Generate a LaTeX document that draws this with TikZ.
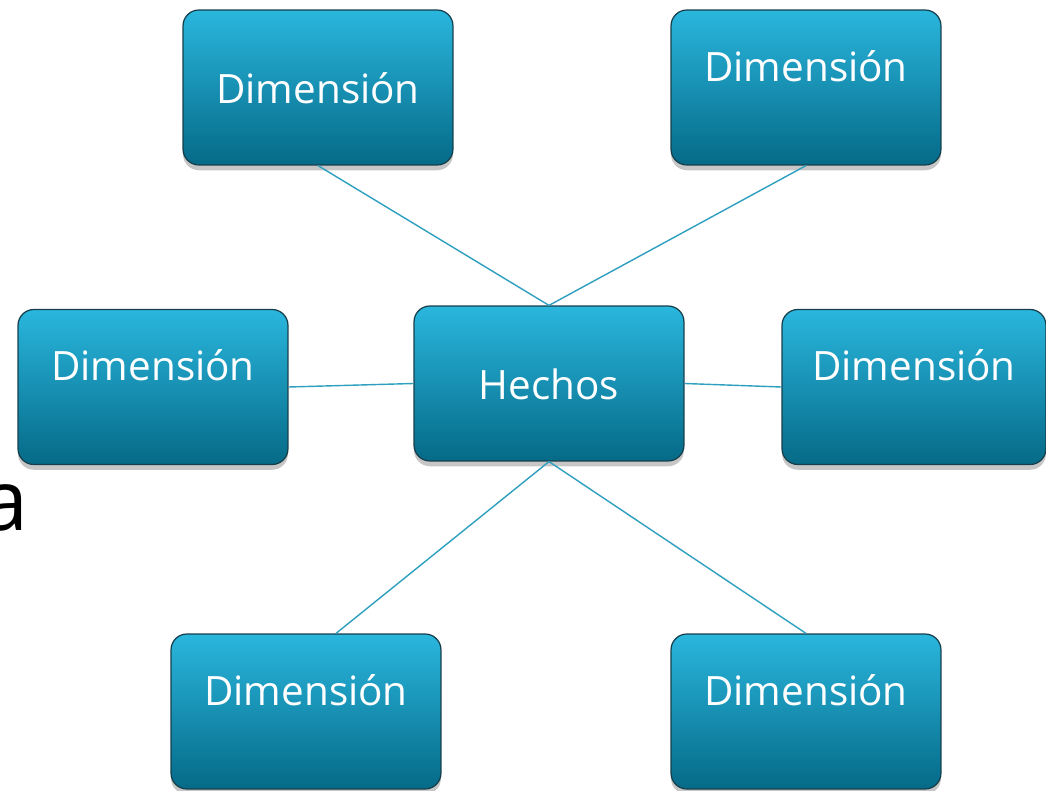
\documentclass[tikz,border=0pt]{standalone}
\usepackage{fontspec}
\setmainfont{Open Sans}
\usepackage{xcolor}
\usepackage{tikz}
\usetikzlibrary{shadows,calc}

\definecolor{boxtop}{HTML}{2AB6DE}
\definecolor{boxmid}{HTML}{1190B4}
\definecolor{boxbot}{HTML}{056A87}
\definecolor{boxline}{HTML}{163F4B}
\definecolor{linkcol}{HTML}{2E9FBF}

\begin{document}
\begin{tikzpicture}[
  x=0.02cm, y=-0.02cm,
  box/.style={draw=boxline, line width=0.7pt, rounded corners=9pt,
              top color=boxtop, middle color=boxmid, bottom color=boxbot,
              minimum width=5.4cm, minimum height=3.1cm, inner sep=0pt,
              text=white, font=\fontsize{23}{28}\selectfont,
              text height=0.79cm, text depth=0.13cm,
              drop shadow={opacity=0.45, shadow xshift=0pt, shadow yshift=-3pt}},
  upper/.style={box, text depth=1.05cm},
  ln/.style={draw=linkcol, line width=0.8pt}
]
\useasboundingbox (0,0) rectangle (1046,791);

\node[box] (d1) at (318,87.5) {Dimensión};
\node[upper] (d2) at (806,87.5) {Dimensión};
\node[upper] (d3) at (153,387) {Dimensión};
\node[box] (h) at (549,383.5) {Hechos};
\node[upper, minimum width=5.28cm] (d4) at (914,387) {Dimensión};
\node[upper] (d5) at (306,711.5) {Dimensión};
\node[upper] (d6) at (806,711.5) {Dimensión};

\node[anchor=base east, inner sep=0pt, font=\fontsize{48}{56}\selectfont] (a) at (29,530) {a};

\draw[ln] (d1.south) -- (h.north);
\draw[ln] (d2.south) -- (h.north);
\draw[ln] (d3.east) -- (h.west);
\draw[ln] (h.east) -- (d4.west);
\draw[ln] (h.south) -- ($(d5.north)+(30,0)$);
\draw[ln] (h.south) -- (d6.north);
\end{tikzpicture}
\end{document}
